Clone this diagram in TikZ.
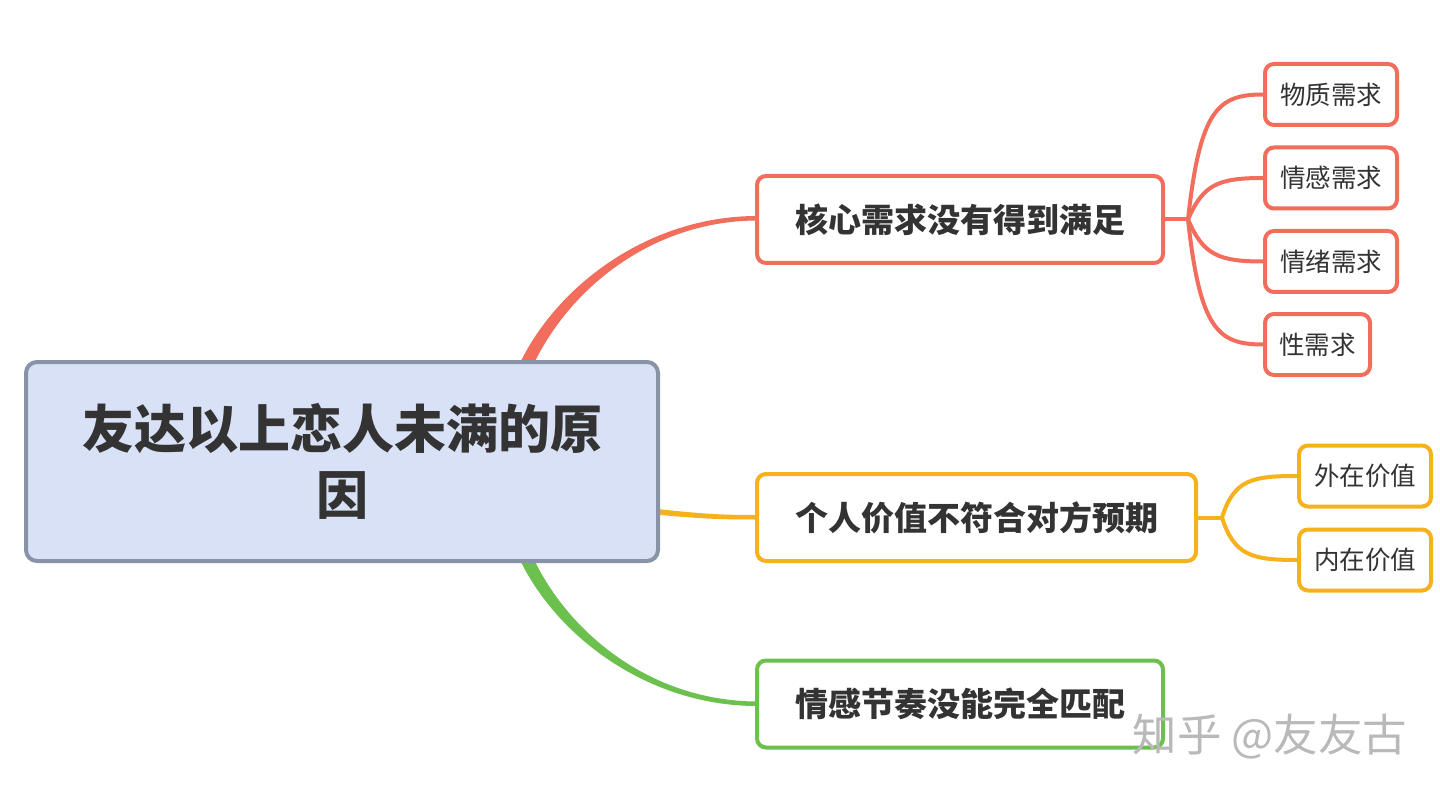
\documentclass[tikz,border=0pt]{standalone}
\usepackage{fontspec}
\setmainfont{Noto Sans CJK SC}
\usetikzlibrary{calc}
\definecolor{cred}{HTML}{F26D5C}
\definecolor{corange}{HTML}{F5B21C}
\definecolor{cgreen}{HTML}{6CC04E}
\definecolor{rootfill}{HTML}{D9E1F6}
\definecolor{rootline}{HTML}{8893A6}
\definecolor{txt}{HTML}{333333}
\tikzset{
  rootbox/.style={draw=rootline, fill=rootfill, line width=4pt, rounded corners=11pt,
    minimum width=632pt, minimum height=199pt, align=center, text=txt,
    font=\fontsize{52}{66}\selectfont\bfseries, inner sep=0pt},
  branchbox/.style={draw=#1, fill=white, line width=4pt, rounded corners=9pt,
    minimum height=87pt, text=txt, font=\fontsize{33}{38}\selectfont\bfseries, inner sep=0pt},
  leafbox/.style={draw=#1, fill=white, line width=4pt, rounded corners=9pt,
    minimum height=61pt, text=txt, font=\fontsize{25.5}{30}\selectfont, inner sep=0pt},
  conn/.style={draw=#1, line width=4pt},
}
\begin{document}
\begin{tikzpicture}[x=1pt,y=-1pt]
\useasboundingbox (0,0) rectangle (1440,794);
\fill[white] (0,0) rectangle (1440,794);

\coordinate (rootc) at (342,461.5);
% main connectors (tapered)
\fill[cred] (509,390) .. controls (539,298) and (640,216) .. (757,216)
  -- (757,220.5) .. controls (642,221) and (553,302) .. (523,390) -- cycle;
\fill[corange] (640,507) .. controls (700,514) and (720,515) .. (757,515)
  -- (757,519.5) .. controls (720,519.5) and (700,519) .. (640,513) -- cycle;
\fill[cgreen] (509,533) .. controls (539,625) and (640,706) .. (757,706)
  -- (757,701.5) .. controls (642,701) and (553,621) .. (523,533) -- cycle;

\node[rootbox] (root) at (rootc) {友达以上恋人未满的原\\因};

\node[branchbox=cred, minimum width=406pt] (b1) at (960,219.5) {核心需求没有得到满足};
\node[branchbox=corange, minimum width=439pt] (b2) at (976.5,517.5) {个人价值不符合对方预期};
\node[branchbox=cgreen, minimum width=406pt] (b3) at (960,704) {情感节奏没能完全匹配};

\node[leafbox=cred, minimum width=132pt] (l1) at (1331,94.5) {物质需求};
\node[leafbox=cred, minimum width=132pt] (l2) at (1331,178) {情感需求};
\node[leafbox=cred, minimum width=132pt] (l3) at (1331,261.5) {情绪需求};
\node[leafbox=cred, minimum width=105pt] (l4) at (1317.5,344.5) {性需求};

\node[leafbox=corange, minimum width=132pt] (o1) at (1365,476) {外在价值};
\node[leafbox=corange, minimum width=132pt] (o2) at (1365,560) {内在价值};

% sub connectors
\coordinate (f1) at ($(b1.east)+(23,0)$);
\draw[conn=cred] (b1.east) -- (f1);
\draw[conn=cred] (f1) .. controls ($(f1)+(12,-110)$) and ($(l1.west)+(-45,0)$) .. (l1.west);
\draw[conn=cred] (f1) .. controls ($(f1)+(15,-35)$) and ($(l2.west)+(-45,0)$) .. (l2.west);
\draw[conn=cred] (f1) .. controls ($(f1)+(15,35)$) and ($(l3.west)+(-45,0)$) .. (l3.west);
\draw[conn=cred] (f1) .. controls ($(f1)+(12,110)$) and ($(l4.west)+(-45,0)$) .. (l4.west);

\coordinate (f2) at ($(b2.east)+(24,0)$);
\draw[conn=corange] (b2.east) -- (f2);
\draw[conn=corange] (f2) .. controls ($(f2)+(12,-38)$) and ($(o1.west)+(-45,0)$) .. (o1.west);
\draw[conn=corange] (f2) .. controls ($(f2)+(12,38)$) and ($(o2.west)+(-45,0)$) .. (o2.west);

% watermark
\node[text=gray!55, font=\fontsize{44.5}{48}\selectfont, inner sep=0pt] (wm) at (1270,737) {知乎 @友友古};
\end{tikzpicture}
\end{document}
